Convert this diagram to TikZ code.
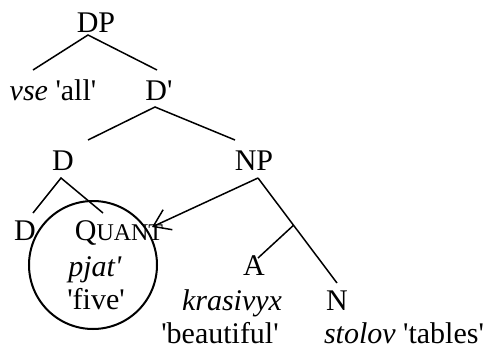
\documentclass[tikz,border=0pt]{standalone}
\usepackage{fontspec}
\setmainfont{Liberation Serif}
\usetikzlibrary{arrows.meta}
\newcommand{\sq}{\textquotesingle}

\begin{document}
\begin{tikzpicture}[x=1pt,y=-1pt]
\tikzstyle{word}=[anchor=base,inner sep=0pt,text height=20pt,text depth=5pt,outer ysep=5pt,font=\fontsize{30}{34}\selectfont]
\tikzstyle{branch}=[line width=1.5pt]
\useasboundingbox (0,0) rectangle (485,348);
% words
\node[word] (DP) at (96,32) {DP};
\node[word] (vse) at (53,100) {\textit{vse} \sq all\sq};
\node[word] (Dbar) at (159,100) {D\sq};
\node[word] (D) at (63,170) {D};
\node[word] (NP) at (254,170) {NP};
\node[word] (Dlow) at (25,240) {D};
\node[word] (Quant) at (119,240) {Q{\fontsize{24}{28}\selectfont UANT}};
\node[word] (pjat) at (95,276) {\textit{pjat\sq}};
\node[word] (five) at (96,309) {\sq five\sq};
\node[word] (A) at (254,275) {A};
\node[word] (kras) at (232,310) {\textit{krasivyx}};
\node[word] (N) at (337,310) {N};
\node[word] (beaut) at (220,343) {\sq beautiful\sq};
\node[word] (stolov) at (404,343) {\textit{stolov} \sq tables\sq};
\node[draw,circle,line width=2pt,minimum size=128pt,inner sep=0pt] (ring) at (93,265) {};
% branches
\draw[branch] ([xshift=-20pt,yshift=5pt]vse.north) -- ([xshift=-8pt,yshift=7pt]DP.south) -- ([xshift=-2pt,yshift=5pt]Dbar.north);
\draw[branch] ([xshift=25pt,yshift=5pt]D.north) -- ([xshift=-4pt,yshift=3pt]Dbar.south) -- ([xshift=-19pt,yshift=5pt]NP.north);
\draw[branch] ([xshift=8pt,yshift=2pt]Dlow.north) -- ([xshift=-2pt,yshift=2pt]D.south) -- ([xshift=-16pt,yshift=2pt]Quant.north);
\draw[branch] ([xshift=4pt,yshift=2pt]NP.south) -- ([yshift=2pt]N.north) coordinate[pos=.45] (Ajoin);
\draw[branch] (Ajoin) -- ([xshift=4pt,yshift=-8pt]A.north);
\draw[branch,-{Straight Barb[length=16pt,width=22pt]}] ([xshift=4pt,yshift=2pt]NP.south) -- ([xshift=33pt,yshift=13pt]Quant.base);
\end{tikzpicture}
\end{document}
